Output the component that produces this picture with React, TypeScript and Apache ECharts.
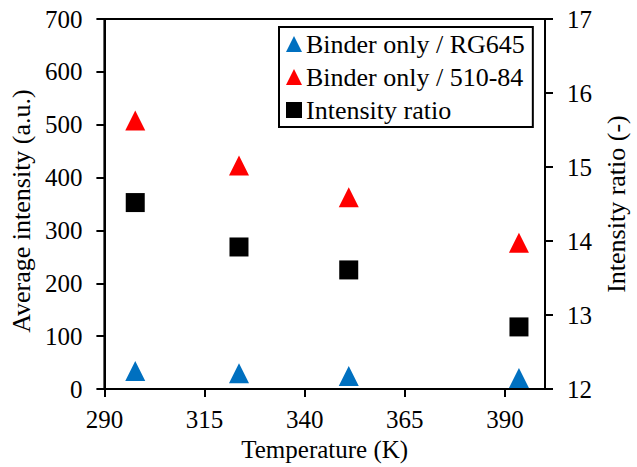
import React, { useEffect, useRef } from "react";
import * as echarts from "echarts";

const temperatures = [297.7, 323.6, 351, 393.5];
const rg645 = [34, 30, 25, 21];
const b51084 = [508, 423, 363, 277];
const intensityRatio = [14.52, 13.92, 13.61, 12.84];
const xTicks = [290, 315, 340, 365, 390];

const FONT = "'Liberation Serif', 'Times New Roman', serif";

export default function App() {
  const ref = useRef<HTMLDivElement>(null);
  useEffect(() => {
    if (!ref.current) return;
    const chart = echarts.init(ref.current, null, { renderer: "svg" });
    const txt = { fontFamily: FONT, fontSize: 25, color: "#000" };
    chart.setOption({
      animation: false,
      backgroundColor: "#fff",
      textStyle: { fontFamily: FONT },
      grid: {
        left: 98,
        right: 90,
        top: 19,
        bottom: 71,
        show: true,
        borderColor: "#000",
        borderWidth: 2,
        backgroundColor: "transparent",
      },
      legend: {
        orient: "vertical",
        left: 279,
        top: 27,
        itemWidth: 16,
        itemHeight: 16,
        itemGap: 7,
        padding: [4, 8, 4, 7],
        borderColor: "#000",
        borderWidth: 2,
        backgroundColor: "#fff",
        textStyle: { fontFamily: FONT, fontSize: 26, color: "#000", padding: [0, 0, 0, -1] },
        data: ["Binder only / RG645", "Binder only / 510-84", "Intensity ratio"],
      },
      xAxis: {
        type: "value",
        min: 290,
        max: 400,
        interval: 25,
        name: "Temperature (K)",
        nameLocation: "middle",
        nameGap: 42,
        nameTextStyle: txt,
        axisLine: { show: true, lineStyle: { color: "#000", width: 2 } },
        axisTick: { show: true, inside: false, length: 8, lineStyle: { color: "#000", width: 2 }, customValues: xTicks },
        axisLabel: { ...txt, margin: 18, customValues: xTicks },
        splitLine: { show: false },
      },
      yAxis: [
        {
          type: "value",
          min: 0,
          max: 700,
          interval: 100,
          name: "Average intensity (a.u.)",
          nameLocation: "middle",
          nameGap: 63,
          nameTextStyle: { ...txt, fontSize: 26, padding: [0, 14, 0, 0] },
          axisLine: { show: true, lineStyle: { color: "#000", width: 2 } },
          axisTick: { show: true, inside: false, length: 8, lineStyle: { color: "#000", width: 2 } },
          axisLabel: { ...txt, margin: 22 },
          splitLine: { show: false },
        },
        {
          type: "value",
          min: 12,
          max: 17,
          interval: 1,
          position: "right",
          name: "Intensity ratio (-)",
          nameLocation: "middle",
          nameGap: 58,
          nameTextStyle: { ...txt, fontSize: 26 },
          axisLine: { show: true, lineStyle: { color: "#000", width: 2 } },
          axisTick: { show: true, inside: false, length: 8, lineStyle: { color: "#000", width: 2 } },
          axisLabel: { ...txt, margin: 22 },
          splitLine: { show: false },
        },
      ],
      series: [
        {
          name: "Binder only / RG645",
          type: "scatter",
          yAxisIndex: 0,
          symbol: "triangle",
          symbolSize: 20,
          itemStyle: { color: "#0070C0", opacity: 1 },
          data: temperatures.map((t, i) => [t, rg645[i]]),
        },
        {
          name: "Binder only / 510-84",
          type: "scatter",
          yAxisIndex: 0,
          symbol: "triangle",
          symbolSize: 20,
          itemStyle: { color: "#FF0000", opacity: 1 },
          data: temperatures.map((t, i) => [t, b51084[i]]),
        },
        {
          name: "Intensity ratio",
          type: "scatter",
          yAxisIndex: 1,
          symbol: "rect",
          symbolSize: 19,
          itemStyle: { color: "#000", opacity: 1 },
          data: temperatures.map((t, i) => [t, intensityRatio[i]]),
        },
      ],
    });
    return () => chart.dispose();
  }, []);
  return <div ref={ref} style={{ width: 637, height: 467, position: "absolute", left: 0, top: 0 }} />;
}
